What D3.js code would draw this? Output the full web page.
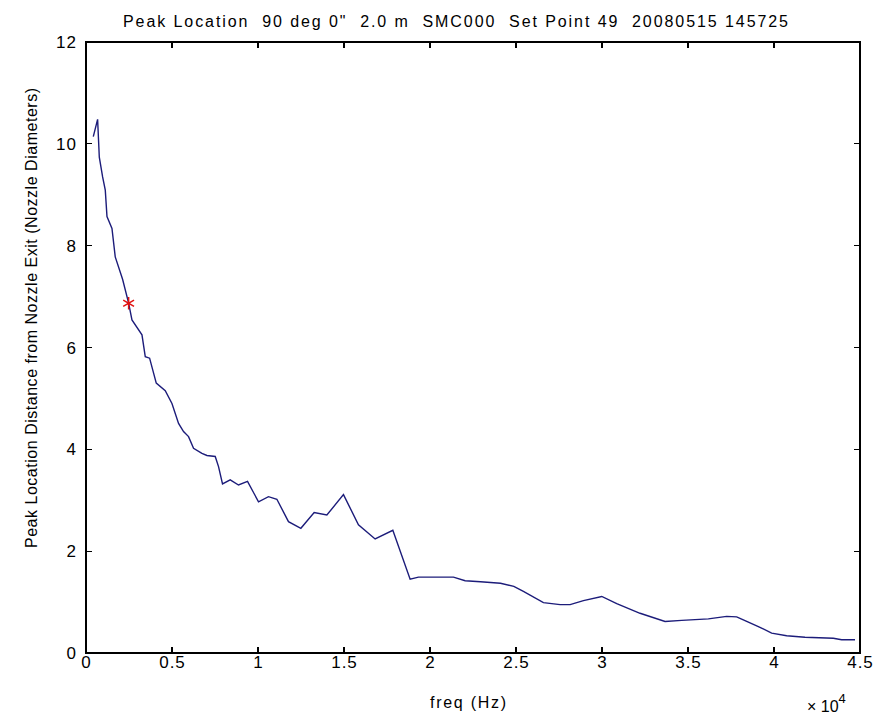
<!DOCTYPE html>
<html>
<head>
<meta charset="utf-8">
<script src="https://cdn.jsdelivr.net/npm/d3@7"></script>
<style>
  html, body { margin: 0; padding: 0; background: #fff; }
  svg { display: block; font-family: "Liberation Sans", Arial, sans-serif; }
</style>
</head>
<body>
<svg id="chart" width="891" height="716"></svg>
<script>
// ----- data -----
const freqHz = [424, 675, 773, 966, 1121, 1220, 1510, 1700, 2127, 2478, 2672, 3254, 3446, 3698,
  4085, 4608, 4997, 5381, 5671, 5962, 6252, 6740, 7030, 7513, 7705, 7937, 8384, 8868, 9391,
  10029, 10610, 11097, 11772, 12492, 13265, 14004, 14969, 15840, 16810, 17839, 18844, 19330,
  21364, 22043, 22936, 24098, 24873, 25430, 26595, 27565, 28146, 28921, 29986, 30857, 32213,
  33666, 34634, 36184, 37250, 37831, 38412, 39090, 39864, 40736, 41802, 43449, 43933, 44710];
const peakDist = [10.14, 10.48, 9.74, 9.35, 9.09, 8.57, 8.34, 7.78, 7.34, 6.87, 6.54, 6.25, 5.82, 5.79,
  5.30, 5.15, 4.90, 4.51, 4.35, 4.25, 4.02, 3.92, 3.88, 3.86, 3.66, 3.32, 3.40, 3.30, 3.37,
  2.97, 3.07, 3.02, 2.58, 2.45, 2.76, 2.71, 3.11, 2.52, 2.24, 2.41, 1.45, 1.49,
  1.49, 1.42, 1.40, 1.37, 1.31, 1.21, 0.99, 0.95, 0.95, 1.03, 1.11, 0.97, 0.78,
  0.62, 0.64, 0.67, 0.72, 0.71, 0.62, 0.52, 0.39, 0.34, 0.31, 0.29, 0.26, 0.26];
const markerPoint = [2478, 6.87];
const xTicks = [0, 5000, 10000, 15000, 20000, 25000, 30000, 35000, 40000, 45000];
const yTicks = [0, 2, 4, 6, 8, 10, 12];
const titleText = 'Peak Location  90 deg 0"  2.0 m  SMC000  Set Point 49  20080515 145725';
const xLabel = 'freq (Hz)';
const yLabel = 'Peak Location Distance from Nozzle Exit (Nozzle Diameters)';

// ----- layout -----
const M = { left: 86, right: 860, top: 42, bottom: 653 };
const TICK = 6;
const FONT = 16;

const svg = d3.select('#chart');
const x = d3.scaleLinear().domain([0, 45000]).range([M.left, M.right]);
const y = d3.scaleLinear().domain([0, 12]).range([M.bottom, M.top]);

const fmtX = v => String(v / 10000);

// box
svg.append('rect')
  .attr('x', M.left).attr('y', M.top)
  .attr('width', M.right - M.left).attr('height', M.bottom - M.top)
  .attr('fill', '#fff').attr('stroke', '#000').attr('stroke-width', 1.2)
  .attr('shape-rendering', 'crispEdges');

// inward ticks on all four sides
const ticks = svg.append('g').attr('stroke', '#000').attr('stroke-width', 1.2)
  .attr('shape-rendering', 'crispEdges');
xTicks.forEach(v => {
  ticks.append('line').attr('x1', x(v)).attr('x2', x(v)).attr('y1', M.bottom).attr('y2', M.bottom - TICK);
  ticks.append('line').attr('x1', x(v)).attr('x2', x(v)).attr('y1', M.top).attr('y2', M.top + TICK);
});
yTicks.forEach(v => {
  ticks.append('line').attr('y1', y(v)).attr('y2', y(v)).attr('x1', M.left).attr('x2', M.left + TICK);
  ticks.append('line').attr('y1', y(v)).attr('y2', y(v)).attr('x1', M.right).attr('x2', M.right - TICK);
});

// tick labels
svg.append('g').selectAll('text').data(xTicks).enter().append('text')
  .attr('x', d => x(d) + 0.5).attr('y', M.bottom + 15)
  .attr('text-anchor', 'middle').attr('font-size', 17).attr('letter-spacing', 1)
  .attr('fill', '#000')
  .text(fmtX);
svg.append('g').selectAll('text').data(yTicks).enter().append('text')
  .attr('x', M.left - 9).attr('y', d => y(d) + 6)
  .attr('text-anchor', 'end').attr('font-size', 17).attr('letter-spacing', 1)
  .attr('fill', '#000')
  .text(d => d);

// exponent note
const expo = svg.append('text').attr('x', 807).attr('y', 712).attr('font-size', FONT).attr('fill', '#000');
expo.append('tspan').text('× 10');
expo.append('tspan').attr('dy', -9).attr('font-size', 13).text('4');

// axis labels and title
svg.append('text')
  .attr('x', 468).attr('y', 708).attr('text-anchor', 'middle')
  .attr('font-size', FONT).attr('fill', '#000')
  .attr('textLength', 76).attr('lengthAdjust', 'spacing')
  .text(xLabel);

svg.append('text')
  .attr('transform', 'translate(37,318) rotate(-90)')
  .attr('text-anchor', 'middle').attr('font-size', FONT).attr('fill', '#000')
  .attr('textLength', 460).attr('lengthAdjust', 'spacing')
  .text(yLabel);

svg.append('text')
  .attr('x', 123).attr('y', 27)
  .attr('font-size', FONT).attr('fill', '#000')
  .attr('textLength', 665).attr('lengthAdjust', 'spacing')
  .style('white-space', 'pre')
  .text(titleText);

// curve
const pts = freqHz.map((f, i) => [f, peakDist[i]]);
svg.append('path')
  .datum(pts)
  .attr('fill', 'none').attr('stroke', '#1c1c7a').attr('stroke-width', 1.4)
  .attr('d', d3.line().x(d => x(d[0])).y(d => y(d[1])));

// red star marker
svg.append('path')
  .attr('transform', `translate(${x(markerPoint[0])},${y(markerPoint[1])})`)
  .attr('d', d3.symbol().type(d3.symbolAsterisk).size(110))
  .attr('fill', 'none').attr('stroke', '#e01010').attr('stroke-width', 1.5);
</script>
</body>
</html>
